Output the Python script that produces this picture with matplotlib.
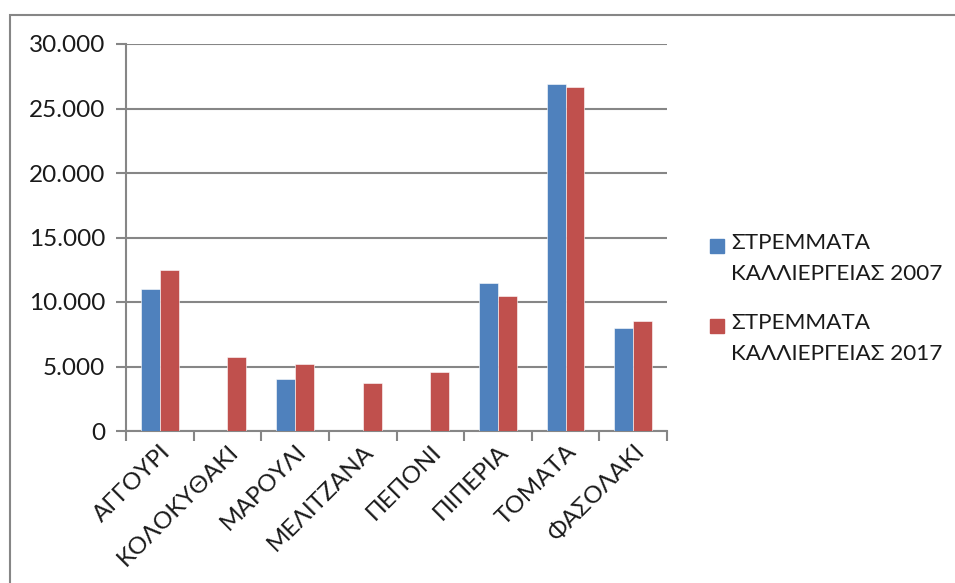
import matplotlib
matplotlib.use("Agg")
import matplotlib.pyplot as plt
import numpy as np
from matplotlib.patches import Rectangle
from matplotlib.ticker import FuncFormatter, FixedLocator
from matplotlib.transforms import ScaledTranslation

crops = ["ΑΓΓΟΥΡΙ", "ΚΟΛΟΚΥΘΑΚΙ", "ΜΑΡΟΥΛΙ", "ΜΕΛΙΤΖΑΝΑ",
         "ΠΕΠΟΝΙ", "ΠΙΠΕΡΙΑ", "ΤΟΜΑΤΑ", "ΦΑΣΟΛΑΚΙ"]
area_2007 = [11000, 0, 4000, 0, 0, 11500, 26900, 8000]
area_2017 = [12500, 5750, 5200, 3700, 4600, 10500, 26700, 8500]
series_names = ["ΣΤΡΕΜΜΑΤΑ\nΚΑΛΛΙΕΡΓΕΙΑΣ 2007",
                "ΣΤΡΕΜΜΑΤΑ\nΚΑΛΛΙΕΡΓΕΙΑΣ 2017"]
colors = ["#4F81BD", "#C0504D"]
grid_color = "#868686"
text_color = "#1a1a1a"

plt.rcParams["font.family"] = ["Lato", "DejaVu Sans"]

W, H = 955, 583
fig = plt.figure(figsize=(W / 100, H / 100), dpi=100)

# chart frame (open to the right and bottom)
fig.patches.append(Rectangle((10 / W, -0.1), 1.2, 1.1 - 15 / H,
                             transform=fig.transFigure, fill=False,
                             edgecolor=grid_color, linewidth=1.5))

ax = fig.add_axes([126 / W, (H - 431) / H, 541 / W, 387 / H])

x = np.arange(len(crops))
bw = 0.28
for i, (vals, col) in enumerate(zip([area_2007, area_2017], colors)):
    ax.bar(x + (i - 0.5) * bw, vals, width=bw, color=col,
           edgecolor="white", linewidth=0.4, zorder=3)

ax.set_xlim(-0.5, len(crops) - 0.5)
ax.set_ylim(0, 30000)
ax.set_yticks(np.arange(0, 30001, 5000))
ax.yaxis.set_major_formatter(
    FuncFormatter(lambda v, p: f"{int(v):,}".replace(",", ".")))
ax.grid(axis="y", color=grid_color, linewidth=1.5, zorder=0)

ax.set_xticks(x)
ax.set_xticklabels(crops, rotation=45, ha="right", va="top",
                   rotation_mode="anchor")
# nudge the slanted category names a little to the right
for lbl in ax.get_xticklabels():
    lbl.set_transform(lbl.get_transform() +
                      ScaledTranslation(4 / 100, 0, fig.dpi_scale_trans))
ax.xaxis.set_minor_locator(FixedLocator(np.arange(-0.5, len(crops), 1.0)))
ax.tick_params(axis="x", which="major", length=0, pad=7, labelsize=17.5,
               labelcolor=text_color)
ax.tick_params(axis="x", which="minor", length=7, width=1.5, color=grid_color)
ax.tick_params(axis="y", length=7, width=1.5, color=grid_color,
               labelsize=17.5, pad=8, labelcolor=text_color)

for s in ["top", "right"]:
    ax.spines[s].set_visible(False)
for s in ["left", "bottom"]:
    ax.spines[s].set_color(grid_color)
    ax.spines[s].set_linewidth(1.5)

# legend
for k, (name, col) in enumerate(zip(series_names, colors)):
    top = 239 + k * 80
    fig.patches.append(Rectangle((710 / W, 1 - (top + 14) / H), 14 / W, 14 / H,
                                 transform=fig.transFigure, color=col))
    fig.text(731 / W, 1 - (top - 6) / H, name, ha="left", va="top",
             fontsize=16.2, linespacing=1.7, color=text_color)

fig.savefig("out.png", dpi=100)
